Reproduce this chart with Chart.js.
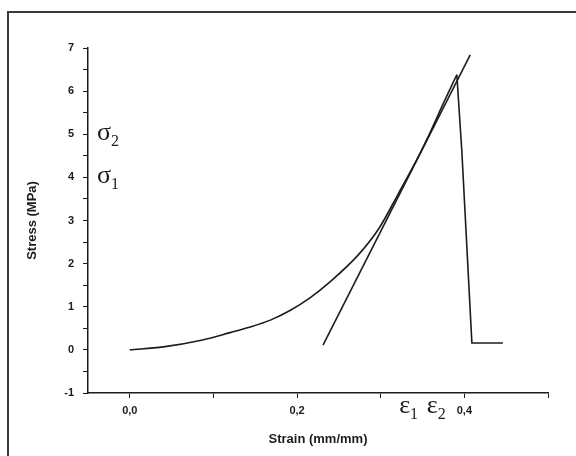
<!DOCTYPE html>
<html>
<head>
<meta charset="utf-8">
<script src="https://cdn.jsdelivr.net/npm/chart.js@4.4.1/dist/chart.umd.min.js"></script>
<style>
  body { margin: 0; background: #fff; }
  #wrap { width: 576px; height: 456px; }
</style>
</head>
<body>
<div id="wrap"><canvas id="stressChart" width="576" height="456"></canvas></div>
<script>
// Stress-strain curve (loading part)
const strain = [0.0, 0.04, 0.087, 0.12, 0.144, 0.168, 0.192, 0.215, 0.239, 0.274, 0.298, 0.321, 0.345, 0.36, 0.375, 0.391];
const stress = [0.0, 0.07, 0.23, 0.40, 0.53, 0.69, 0.92, 1.20, 1.57, 2.22, 2.82, 3.62, 4.48, 5.08, 5.72, 6.38];

// Failure drop after the peak
const dropStrain = [0.391, 0.397, 0.409, 0.446];
const dropStress = [6.38, 4.6, 0.16, 0.16];

// Tangent line
const tangentStrain = [0.231, 0.407];
const tangentStress = [0.11, 6.84];

// Axis ticks
const xTickValues = [0, 0.1, 0.2, 0.3, 0.4, 0.5];
const xTickLabels = ['0,0', '', '0,2', '', '0,4', ''];
const yTickValues = [-1, -0.5, 0, 0.5, 1, 1.5, 2, 2.5, 3, 3.5, 4, 4.5, 5, 5.5, 6, 6.5, 7];

// Symbol labels (value on their axis)
const sigmaLabels = [{ sub: '2', value: 5 }, { sub: '1', value: 4 }];
const epsLabels = [{ sub: '1', value: 0.334 }, { sub: '2', value: 0.367 }];

const toPoints = (xs, ys) => xs.map((x, i) => ({ x: x, y: ys[i] }));
const ink = '#1c1c1c';

// frame around the figure plus the greek symbol labels
const decorations = {
    id: 'decorations',
    afterDraw(chart) {
        const ctx = chart.ctx;
        const xs = chart.scales.x, ys = chart.scales.y;
        ctx.save();
        ctx.strokeStyle = '#3a3a3a';
        ctx.lineWidth = 2;
        ctx.beginPath();
        ctx.moveTo(8, 456);
        ctx.lineTo(8, 12);
        ctx.lineTo(576, 12);
        ctx.stroke();

        ctx.fillStyle = ink;
        ctx.textBaseline = 'alphabetic';
        const drawSym = (sym, sub, x, y) => {
            ctx.font = '26px "Liberation Serif"';
            ctx.fillText(sym, x, y);
            const w = ctx.measureText(sym).width;
            ctx.font = '16px "Liberation Serif"';
            ctx.fillText(sub, x + w, y + 6);
        };
        sigmaLabels.forEach(l => {
            drawSym('σ', l.sub, chart.chartArea.left + 9, ys.getPixelForValue(l.value) + 6);
        });
        epsLabels.forEach(l => {
            drawSym('ε', l.sub, xs.getPixelForValue(l.value) - 10, chart.chartArea.bottom + 20);
        });
        ctx.restore();
    }
};

const lineStyle = { showLine: true, borderColor: ink, borderWidth: 1.6, pointRadius: 0 };

const ctxS = document.getElementById('stressChart').getContext('2d');
const stressChart = new Chart(ctxS, {
    type: 'scatter',
    data: {
        datasets: [
            Object.assign({ label: 'Stress', data: toPoints(strain, stress), cubicInterpolationMode: 'monotone' }, lineStyle),
            Object.assign({ label: 'Failure', data: toPoints(dropStrain, dropStress) }, lineStyle),
            Object.assign({ label: 'Tangent', data: toPoints(tangentStrain, tangentStress) }, lineStyle)
        ]
    },
    options: {
        responsive: false,
        animation: false,
        layout: { padding: { left: 0, top: 48, right: 28, bottom: 0 } },
        plugins: {
            legend: { display: false },
            tooltip: { enabled: false }
        },
        scales: {
            x: {
                type: 'linear',
                min: -0.05,
                max: 0.5,
                afterBuildTicks: s => { s.ticks = xTickValues.map(v => ({ value: v })); },
                afterFit: s => { s.height = 63; },
                grid: { drawOnChartArea: false, tickLength: 5, color: ink },
                border: { color: ink, width: 1.5 },
                ticks: {
                    color: ink,
                    padding: 6,
                    autoSkip: false,
                    maxRotation: 0,
                    font: { family: 'Liberation Sans', size: 11, weight: 'bold' },
                    callback: (v, i) => xTickLabels[i]
                },
                title: {
                    display: true,
                    text: 'Strain (mm/mm)',
                    color: ink,
                    padding: { top: 9, bottom: 9 },
                    font: { family: 'Liberation Sans', size: 13, weight: 'bold' }
                }
            },
            y: {
                min: -1,
                max: 7,
                afterBuildTicks: s => { s.ticks = yTickValues.map(v => ({ value: v })); },
                afterFit: s => { s.width = 88; },
                grid: { drawOnChartArea: false, tickLength: 5, color: ink },
                border: { color: ink, width: 1.5 },
                ticks: {
                    color: ink,
                    padding: 9,
                    autoSkip: false,
                    font: { family: 'Liberation Sans', size: 11, weight: 'bold' },
                    callback: v => Number.isInteger(v) ? String(v) : ''
                },
                title: {
                    display: true,
                    text: 'Stress (MPa)',
                    color: ink,
                    padding: { top: 25, bottom: 25 },
                    font: { family: 'Liberation Sans', size: 13, weight: 'bold' }
                }
            }
        }
    },
    plugins: [decorations]
});
</script>
</body>
</html>
